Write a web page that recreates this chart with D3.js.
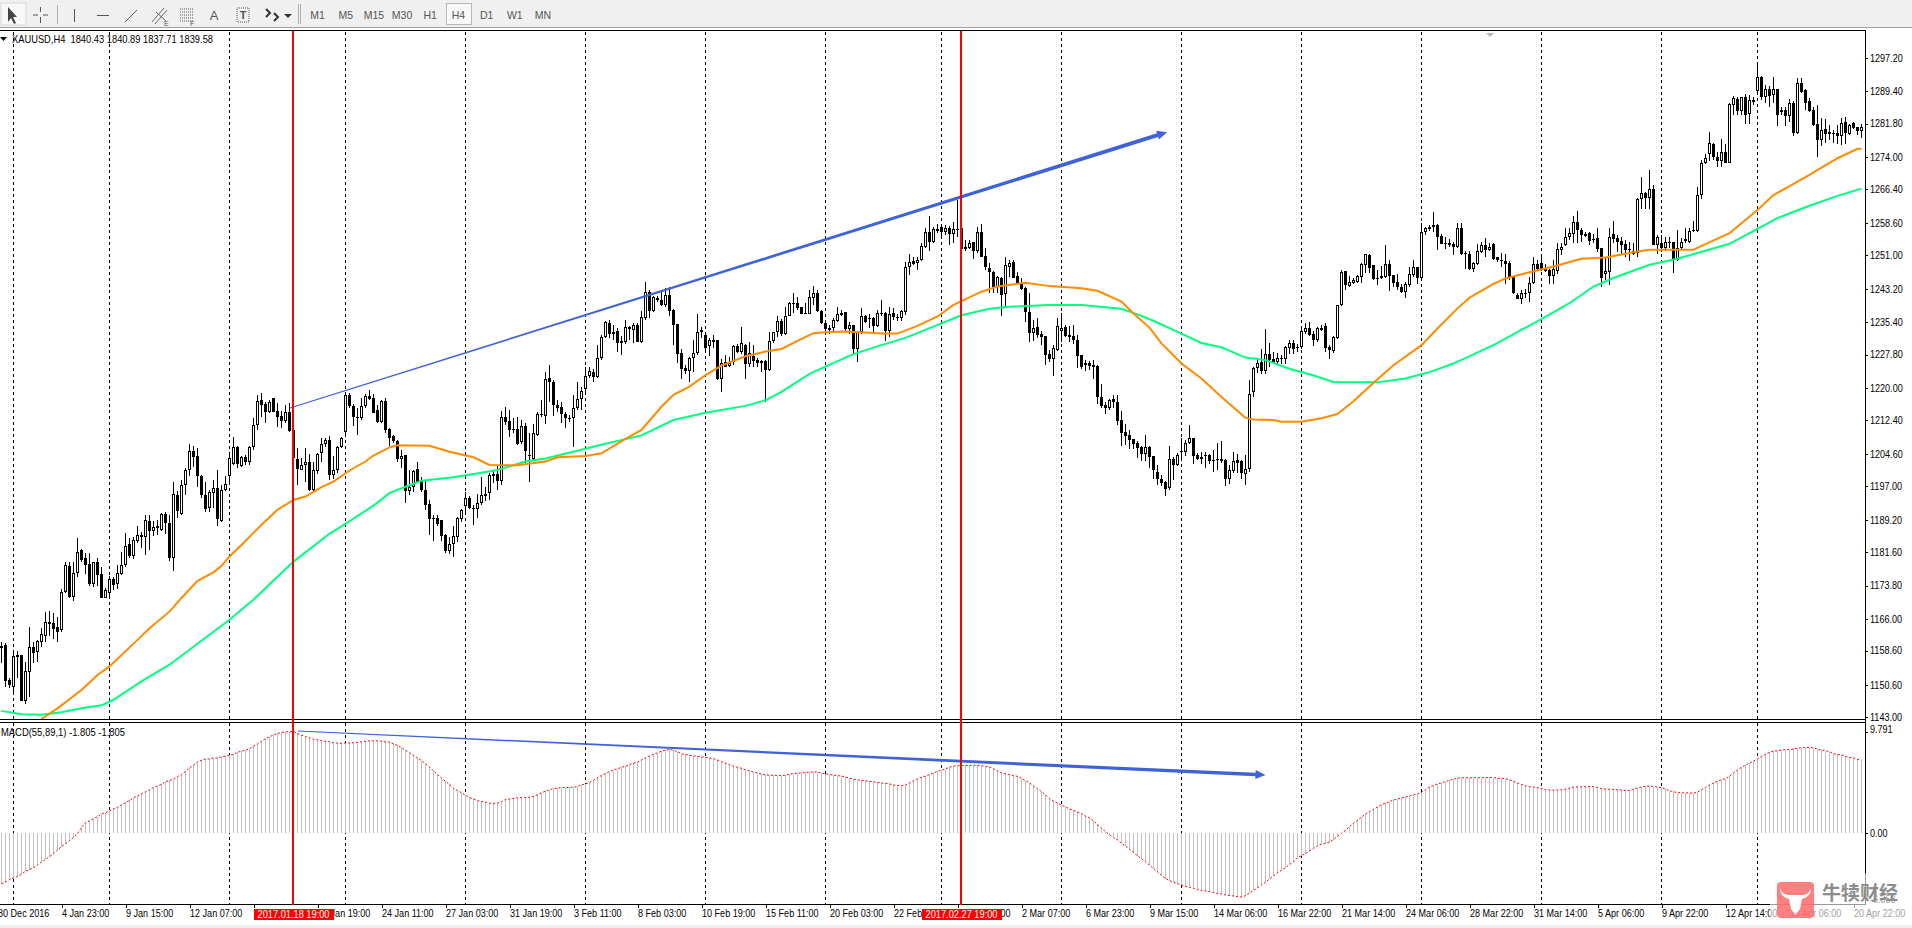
<!DOCTYPE html>
<html><head><meta charset="utf-8">
<script src="https://cdn.jsdelivr.net/npm/d3@7/dist/d3.min.js"></script>
<style>
html,body{margin:0;padding:0;background:#fff;overflow:hidden}
svg{display:block}
text{font-family:"Liberation Sans",Arial,sans-serif;font-size:10.5px;fill:#000}
</style></head><body><svg id="c" width="1912" height="928"></svg>
<script>
// ---------- chart data ----------
const opensA=[1159.3,1159.9,1151.7,1150.1,1157.5,1157.5,1146.9,1153.7,1159.4,1158.3,1160.7,1162.1,1165.2,1165,1164.1,1163.5,1172.3,1178.4,1171.2,1176.8,1182,1180.2,1178.8,1174.2,1179.2,1176.4,1171,1172.1,1175.3,1174.1,1176.5,1178.5,1183.5,1180.8,1184.1,1185.6,1185.2,1188.8,1186.6,1187.7,1186.8,1190.5,1188.4,1180.3,1195,1190.5,1197.2,1200.8,1205.3,1204,1199.4,1195,1191.9,1195.5,1196.6,1188.8,1196.1,1199.5,1202.1,1206.2,1201.8,1203.8,1202.8,1206.1,1211.3,1217.2,1216.3,1214.3,1217.6,1214.6,1213.5,1212.2,1214.4,1210.1,1203.3,1200.9,1201.9,1202.6,1196.2,1200.6,1204.9,1206.8,1207.9,1199.7,1200.7,1206.1,1209.6,1218.4,1215.7,1213.3,1212.9,1215.7,1218.2];
const highsA=[1160.5,1160.3,1152.1,1158.7,1158.6,1157.5,1156,1164,1160.7,1161.1,1163.8,1167.5,1167.9,1167.3,1166.5,1172.9,1179.2,1179.2,1179.2,1184.8,1182.3,1181.3,1181.5,1179.4,1180.2,1178.2,1173.2,1176.1,1175.9,1178.6,1181.7,1186,1184.8,1185.2,1187.7,1186.4,1190.4,1190.4,1189,1189.1,1190.7,1191.1,1190.3,1198.1,1195.9,1198.5,1201.2,1206.8,1206.5,1205.9,1199.7,1198.1,1196.2,1198.5,1200.8,1197.3,1199.3,1205.1,1208.6,1206.5,1204.1,1204.4,1206.5,1212.9,1218.4,1218.8,1216.6,1217.1,1217.6,1216.4,1214.5,1216,1216.4,1210.2,1205.9,1203.6,1205.9,1204.6,1202.8,1204.7,1208.2,1208.2,1208.8,1204,1206.5,1208.6,1218.6,1218.8,1216.3,1215.3,1217.6,1218.6,1219.6];
const lowsA=[1155.6,1150.1,1149.8,1148.2,1152.1,1146.9,1146.1,1147.8,1155.6,1156,1159.5,1160.7,1162,1161.4,1160.7,1163,1172,1170.8,1170.3,1175.9,1179.4,1176.5,1173.7,1173.4,1173.7,1170.8,1170.8,1171,1172.8,1172.9,1176.3,1178.2,1180.2,1179.9,1183.7,1182.5,1181,1182,1185.4,1185.6,1186.6,1185.9,1179.5,1177.1,1189.5,1190.3,1195,1199.3,1201.5,1196.9,1194.2,1191.1,1190.9,1191.9,1187.8,1188.6,1195.8,1197.7,1202,1201.2,1201.5,1202,1202,1205.5,1210.2,1213.3,1211.8,1214.1,1214.4,1210.8,1210.6,1211.8,1209.6,1202.4,1197.3,1200.7,1198.1,1195.8,1195.4,1199.9,1202.8,1206.3,1198.5,1198.7,1200.2,1205.9,1209,1215.3,1211,1209,1212.5,1215.3,1217.2];
const closesA=[1159.7,1151.5,1150.5,1157.3,1157.1,1146.9,1153.8,1159.4,1158.1,1160.8,1162.4,1165.2,1164.8,1163.7,1163,1172.3,1178.6,1171.2,1176.7,1181.6,1179.8,1178.7,1174.2,1179.2,1176.3,1170.8,1172.8,1175.3,1174,1176.7,1178.6,1183.1,1180.6,1184.4,1185.6,1185.2,1189.1,1186.6,1187.4,1187.2,1190.5,1188.4,1180.3,1195.1,1191.2,1197.3,1200.8,1205.2,1203.9,1199.3,1195,1191.7,1195.7,1196.6,1189.4,1196.1,1197.5,1203.6,1206.1,1202.1,1203.8,1202.8,1206.2,1211.3,1216.9,1216,1214.3,1216.8,1214.4,1213.3,1212.2,1214.3,1210,1203.7,1201,1201.9,1202.6,1196.2,1200.7,1204.5,1206.8,1207.8,1199.7,1200.8,1206.1,1208.2,1218.4,1215.7,1213.3,1212.9,1215.8,1218,1217.4];
const opensB=[1217.6,1214.8,1212.1,1216.9,1210.3,1208.7,1207.7,1203.5,1204.3,1196,1196.9,1201,1198.5,1196.1,1192.8,1189.7,1189.7,1189.1,1185.7,1181.8,1183.6,1185.2,1189.4,1192.5,1194.2,1191.9,1191.6,1193,1195.1,1195.5,1199.8,1199.9,1198.3,1213.2,1212.2,1210.4,1210.4,1207.3,1211.1,1204.3,1203.5,1209.1,1213.6,1213.5,1222.4,1221.5,1216,1215.5,1213.9,1213,1213,1215.2,1217.3,1219.8,1222.9,1223.7,1222.5,1226.9,1231.8,1235.1,1232.5,1233.3,1230.4,1230.8,1234.2,1233.6,1234.7,1230.8,1236.4,1242.5,1237.9,1241,1240.6,1239.3,1241.7,1238.2,1235,1228.1,1224.7,1224,1226.9,1228.1,1233,1232.4,1229.7,1231.1,1231.1,1222.2,1226,1225.2,1226,1229.7,1228.3,1230.1];
const highsB=[1218.6,1216,1217.2,1217.6,1210.6,1209,1207.8,1205.5,1204.3,1200.8,1200.8,1202.6,1199.2,1198.3,1193.8,1190.3,1190.3,1189.1,1185.8,1185.2,1187.8,1189.9,1191.8,1195.7,1194.7,1192.6,1195.2,1199.2,1196.9,1200,1200.8,1201.7,1214.7,1215.6,1214.8,1212.9,1213.3,1212.5,1211.7,1209.4,1211.6,1214.4,1217.2,1223.8,1225.4,1221.9,1217.2,1216.8,1214.4,1213.7,1218.4,1221.3,1220.3,1225,1225,1224.4,1230,1232.4,1235.7,1235.9,1234.7,1234.1,1232.2,1235.9,1234.5,1235.1,1235.1,1238.1,1244.7,1242.8,1241.5,1241.4,1242.5,1243.3,1243.7,1238.4,1235,1229,1225.4,1227.3,1231.2,1237.3,1234.3,1232.4,1231.6,1232.4,1231.2,1226.7,1227.7,1227.2,1230,1230.2,1234.3,1230.3];
const lowsB=[1214.1,1211.7,1211.7,1209.5,1206.4,1207.2,1202.7,1201.2,1193.2,1195,1195.7,1197.7,1195.7,1191.4,1185.6,1184.3,1187.7,1184.3,1181.5,1181.1,1180.4,1184,1188.7,1190.4,1191.6,1187.9,1189.5,1192.6,1193.5,1193.8,1197.7,1196.1,1197.3,1211.3,1208.6,1209.4,1206.6,1206.9,1202.5,1198.1,1203.1,1208.8,1213.3,1211.6,1216.8,1213.5,1214.4,1211.7,1210.7,1212.1,1206.3,1214.8,1214.8,1218.7,1222.3,1221.5,1222.3,1226.5,1231.6,1231.6,1231.2,1228.5,1227.6,1230.3,1231.2,1230.6,1230.7,1230.6,1235.9,1236.3,1237.8,1240.2,1239.2,1239,1236.7,1230,1225.9,1222.2,1223.3,1221.5,1223.8,1227.7,1231.6,1228.5,1227.5,1229.3,1221.9,1219.1,1224.8,1225,1225.4,1228.1,1227.9,1222];
const closesB=[1214.2,1212,1216.9,1210.2,1208.4,1207.6,1203.5,1204.2,1195.8,1196.9,1200.6,1198.1,1196.1,1192.6,1189.4,1189.3,1188.2,1185.5,1181.8,1183.6,1185.3,1189.5,1191.4,1194.2,1192,1191.6,1193,1194.9,1194.8,1199.6,1199.4,1198.3,1213.1,1212.1,1210.2,1210.1,1207,1211.1,1205.3,1204.1,1209.4,1213.8,1213.8,1222.2,1221.5,1216.1,1215.3,1213.8,1213,1212.9,1215.2,1217.3,1219.3,1222.9,1223.9,1222.5,1226.9,1231.9,1235.4,1232.5,1233,1230.4,1230.9,1234.2,1233.7,1234.7,1230.8,1236.5,1242.4,1238.1,1241.3,1240.6,1239.3,1241.7,1238.1,1234.8,1228,1224.5,1224,1226.9,1228.1,1233,1233.5,1229.4,1231.2,1230.8,1222,1225.9,1225,1225.9,1229.8,1228.3,1230.4,1225.6];
const opensC=[1225.7,1227.4,1226.5,1226.3,1226.3,1224.2,1230.9,1233,1235.6,1232.6,1236.9,1239.8,1239.8,1238.9,1237.5,1237.3,1241.1,1242.1,1238.1,1235.1,1233.5,1233.9,1235.7,1237.4,1237.7,1233.8,1234.8,1229,1233.1,1236.7,1236.3,1236.3,1234.5,1237.4,1237.4,1233.2,1237.4,1236.6,1236.3,1237.8,1248.2,1249.6,1249.1,1249.8,1253,1256.4,1254,1257.2,1257.7,1256.5,1257.3,1256.1,1257.2,1257.4,1252.4,1252.6,1254,1251.9,1256.5,1250.8,1248,1247.2,1243.5,1245.8,1241.9,1248.3,1249.5,1246.2,1244.6,1243.4,1237.7,1232.9,1234.2,1232.6,1232.1,1227.9,1226.8,1228.9,1233.4,1234.3,1232.3,1232.1,1231.3,1227.6,1225.3,1225.9,1225.3,1225.1,1217.8,1216,1215.3,1217.4,1216.8];
const highsC=[1230.8,1230,1226.9,1226.5,1226.5,1233.1,1233.1,1236.8,1236.2,1239,1240.2,1242.1,1241.2,1239,1239.8,1242.9,1243.8,1242.9,1238.2,1235.2,1234.7,1236.3,1239,1238.2,1237.8,1235.5,1234.8,1233.4,1238.8,1237,1237.3,1236.6,1238.2,1240.5,1237.8,1239,1238.8,1237.3,1238.2,1249.5,1251.3,1250.5,1250.7,1253.8,1257.5,1260.2,1257.7,1258.3,1258.3,1258.1,1257.9,1258.9,1263.9,1258.1,1254.6,1254.6,1254.2,1257.7,1258.3,1252.6,1249.3,1247.3,1246.2,1246,1250.5,1249.9,1249.9,1247.2,1245.6,1243.5,1242.3,1235.9,1236.3,1233.4,1232.1,1228.8,1230,1236.3,1237.4,1234.7,1234.5,1234.7,1232.4,1227.7,1226.5,1226.3,1226.5,1225.3,1220.9,1216.8,1217.5,1218.3,1218.3];
const lowsC=[1224.9,1224.9,1224.9,1223.7,1216.8,1224,1230.4,1232,1232.1,1232.4,1236.8,1237.4,1238.2,1237.3,1237.3,1237.3,1239.4,1237.8,1234.9,1232.7,1232.6,1233.4,1235.5,1236.8,1233.1,1232.6,1227.9,1226.1,1232.7,1235.1,1234.1,1233.1,1234.3,1236.8,1231,1232,1235.9,1235.7,1235.7,1237,1246.4,1248.7,1247.6,1249.7,1252.6,1251.9,1253.8,1256.3,1255,1255.8,1253.4,1253.8,1255.4,1250.7,1252.1,1252.4,1250.1,1251.6,1250.5,1247.6,1242.3,1242.3,1242.3,1236.8,1238.6,1246,1245.6,1244.3,1242.9,1235.5,1230.8,1231,1231.6,1230,1225.3,1226.1,1222.8,1228.7,1230.8,1231.8,1230.8,1230.2,1224.7,1224.5,1224,1224.2,1222,1216.2,1215.4,1213.9,1214.8,1215.2,1211.3];
const closesC=[1228.1,1226.3,1225.9,1225.9,1224.2,1230.9,1233,1235.6,1232.6,1236.9,1239.8,1239.6,1238.7,1237.3,1237.3,1241.2,1242.1,1238,1235.1,1233.7,1234.1,1235.8,1237.2,1237,1233.8,1234.8,1229.1,1233.1,1236.7,1235.5,1236.1,1234.5,1237.4,1237.3,1233.2,1237.2,1236.6,1236.4,1238,1248.2,1249.5,1249,1249.8,1253.1,1256.4,1254,1257.1,1256.8,1256.5,1257.3,1256,1257.2,1257,1252.4,1253,1253.9,1251.9,1256.5,1250.7,1248.3,1247.2,1243.5,1245.9,1241.7,1248.7,1249.1,1245.8,1244.4,1243.2,1237.7,1232.9,1233.9,1232.4,1231.9,1227.7,1226.8,1229.3,1234.4,1234.1,1232.1,1231.9,1231.2,1227.4,1224.9,1225.9,1225.2,1224.9,1217.9,1215.7,1215.4,1217.2,1216.8,1212.3];
const opensD=[1212.4,1209.6,1209,1208,1207.1,1206.1,1204.5,1206.2,1204,1200.3,1198.8,1198,1196.5,1203.5,1202,1205.2,1205.1,1207.1,1208.3,1204.4,1203.8,1204.3,1204.3,1203.1,1203.5,1203.5,1203.1,1198.7,1200.5,1203.1,1202.9,1199.9,1201.1,1219.1,1224.7,1226.1,1224,1228,1226.7,1226.1,1227.1,1226.7,1229.4,1230.4,1229.6,1229.5,1233.1,1233.9,1232.5,1231.2,1233.9,1234.5,1229.6,1228.6,1231.7,1239.3,1247.3,1243.8,1244.6,1244.8,1246,1248.8,1251.1,1248.7,1245.8,1246.2,1246,1248.9,1246.4,1244.8,1243.7,1242.4,1244.1,1246.4,1248.3,1245.8,1256.4,1257.1,1258,1258,1255.5,1253.9,1253.8,1253.6,1253,1257.3,1251.6,1251.3,1247.7,1249,1251.7,1253.4,1252.3];
const highsD=[1214.6,1211.5,1210.1,1208,1207.6,1206.4,1209,1206.4,1204,1201.9,1199.6,1198.2,1206.4,1203.9,1204.8,1208.2,1207.8,1211.3,1208.4,1204.8,1205,1205,1204.5,1205.4,1207.2,1207.5,1203.3,1201.9,1205,1204.5,1203.1,1204.3,1221.8,1224.9,1226.9,1229.2,1233.7,1230.6,1228.4,1228.1,1227.7,1229.8,1231.3,1231.2,1230.2,1233.9,1235.1,1235.3,1233.4,1234.3,1234.7,1235.2,1230,1232.1,1239.4,1247.6,1247.3,1246.2,1245.8,1246.4,1249.1,1251.2,1251.2,1248.7,1247.6,1248.5,1253.4,1249.9,1246.4,1246.6,1244.4,1244.8,1248.3,1249.9,1248.3,1258.5,1257.7,1258.1,1261.2,1258.3,1256.1,1255.2,1254.7,1254.2,1258.5,1258.5,1251.9,1251.9,1249.5,1253.6,1254.2,1255,1253.8];
const lowsD=[1206.5,1206.6,1205.8,1205.8,1203.7,1203,1203,1201.2,1198.8,1197.3,1197,1194.7,1196.1,1198.4,1201.8,1203.1,1204,1206.9,1202.2,1203.1,1202.3,1201.2,1202.2,1200.4,1200.8,1202.5,1197.1,1197.5,1200.1,1200,1198.6,1197.2,1200.4,1217.8,1223.4,1223.2,1223.2,1224.9,1225.6,1225.3,1225.7,1225.6,1227.9,1228,1228.5,1229.2,1232.6,1232.1,1229.8,1230.8,1233.4,1228.4,1226.8,1228.2,1231.4,1239.1,1243,1243.7,1244.3,1244.6,1244.6,1246.8,1246.9,1245.2,1244,1245.5,1245.8,1242.7,1243.7,1243,1242.1,1241,1243.5,1246,1244.4,1245.5,1255.7,1256.8,1256.5,1252.2,1253.6,1252.5,1253,1251.1,1252.8,1251.1,1247.7,1247.6,1247.2,1248.7,1251.5,1250.5,1252.1];
const closesD=[1209.5,1208.8,1207.9,1206.9,1205.9,1204.6,1206.1,1203.9,1200.9,1198.7,1197.8,1196.4,1203.3,1202,1204.3,1205,1207.2,1208.2,1204.1,1203.5,1203.4,1204,1203,1203,1203.3,1202.9,1198.6,1200.7,1203,1202.5,1200,1201.1,1218.5,1224.7,1225.9,1224,1228,1226.5,1225.9,1227,1226.9,1229.5,1230.4,1229.1,1229.3,1233.4,1233.9,1232.4,1231.2,1234,1233.6,1229.4,1228.8,1231.9,1239.3,1247.2,1244.1,1244.7,1245.2,1246.1,1249,1251.2,1248,1245.5,1245.5,1245.7,1248.9,1246.2,1244.6,1243.6,1242.4,1244.2,1246.6,1248.3,1245.8,1256.4,1257.3,1257.7,1257.7,1255.4,1253.7,1253.6,1253.5,1253,1257.3,1251.3,1251.5,1247.7,1249.1,1252,1253.4,1252.2,1252.9];
const opensE=[1253.6,1250.5,1250,1249.6,1249.2,1246,1241.8,1240.8,1242.1,1242.1,1244.6,1248.9,1249.3,1248.1,1247.5,1246.2,1247.4,1252.3,1253.4,1255.3,1256,1258.7,1257,1255.9,1256.2,1254.9,1255,1252.6,1246.7,1247.1,1256.1,1255,1254.3,1253.6,1252.4,1251.9,1251.6,1264.1,1265.5,1264.4,1266.6,1253.4,1253.8,1252.7,1254.2,1254,1249.8,1252.7,1254.9,1254.1,1256.9,1256.7,1265.2,1272.7,1274.7,1277,1274.1,1273.1,1275.1,1272.6,1286.1,1287.5,1284.8,1287.9,1284.1,1287.3,1289.4,1292.7,1288.1,1289.8,1288.5,1289.9,1285,1285,1283.6,1286.7,1279.5,1291.4,1289.6,1287.1,1285,1281.8,1278,1280.5,1279.8,1279.6,1279.6,1279,1282.2,1279.3,1282,1280.9,1280.1];
const highsE=[1253.9,1250.6,1251.6,1251.4,1249.7,1246.1,1242.1,1243,1243.2,1246,1250.5,1250,1250.5,1249,1247.9,1249.9,1253.8,1253.9,1257.3,1257.3,1260.2,1261.3,1257.3,1256.5,1256.5,1256.1,1257.3,1252.8,1250.7,1257.3,1259,1255.7,1255.2,1254.5,1254.2,1253.8,1264.3,1269.4,1265.9,1270.9,1267.4,1255.7,1255.7,1255.3,1255.3,1254.2,1257,1255,1257.3,1257.3,1259,1267,1273.3,1274.8,1279.9,1277.2,1275.2,1278.1,1277,1286.5,1288.2,1288.1,1287.9,1288.6,1288.5,1287.9,1295.5,1292.9,1290.8,1290.6,1292.6,1289.9,1285.7,1285.6,1287.5,1287.1,1292.4,1292.4,1289.8,1287.7,1285.6,1286.1,1283,1282.8,1281.5,1280.4,1281.5,1283,1283.4,1281.8,1282.2,1281.1,1281.8];
const lowsE=[1249.9,1249.5,1248.2,1244.4,1245.3,1241.9,1240.7,1239.6,1241.1,1240.1,1244.2,1247.4,1247.4,1247.1,1244.4,1244.4,1246.7,1251,1253.1,1254.5,1253.8,1253.9,1254.2,1255.2,1253.4,1253.8,1251.8,1243.6,1245.2,1244,1253.8,1251.8,1251.4,1250.6,1249.6,1251,1250.6,1261.8,1261.9,1261.8,1253.3,1251.3,1251.8,1252,1252.6,1246.9,1249.6,1252.4,1253.9,1253.9,1256.5,1256.5,1264.1,1272.3,1273,1273.3,1271.7,1271.7,1272.5,1272.5,1283.8,1283.8,1283.8,1281.8,1281.7,1286.1,1288.5,1287.2,1286.5,1285.6,1286.5,1281.3,1283.8,1281.3,1282.2,1278.9,1279.4,1288.9,1285,1284.4,1281.3,1274,1276.5,1277.3,1278,1277.3,1277,1276.8,1277,1279.1,1280.5,1279.1,1278.5];
const closesE=[1250.2,1249.9,1249.8,1249,1246,1242.2,1240.8,1242.3,1241.9,1244.6,1248.9,1247.7,1247.9,1247.3,1246.2,1247.7,1252.4,1252.9,1255.4,1256.2,1258.7,1256.9,1255.8,1255.6,1254.4,1254.6,1252.4,1245.6,1247.3,1255.4,1254.9,1254.2,1253.4,1252.2,1252.2,1251.4,1264.1,1265.5,1264.5,1266.4,1253.5,1255.2,1252.7,1254.2,1253.8,1249.9,1252.8,1254,1254.3,1256.8,1256.7,1265.2,1272.7,1273.8,1277.2,1274,1273.1,1275.1,1272.7,1286.4,1287.8,1284.8,1287.9,1283.9,1287.2,1286.9,1292.6,1288.1,1289.8,1288.3,1289.9,1283.8,1284.6,1283.6,1286.5,1279.6,1291.4,1289.2,1286.5,1284.8,1281.5,1278,1280.4,1279.4,1279.3,1279.3,1279,1281.9,1279.7,1281.4,1280.7,1280.1,1280.9];
const opens=[...opensA,...opensB,...opensC,...opensD,...opensE];
const highs=[...highsA,...highsB,...highsC,...highsD,...highsE];
const lows=[...lowsA,...lowsB,...lowsC,...lowsD,...lowsE];
const closes=[...closesA,...closesB,...closesC,...closesD,...closesE];

const maFastBars=[10,14,20,24,27,34,37,42,45,49,53,55,57,60,65,69,73,76,80,83,87,91,93,97,99,107,112,118,122,129,136,139,146,150,156,160,165,168,172,176,180,186,191,195,199,203,206,211,215,220,224,229,234,238,245,249,256,262,270,274,280,283,287,290,295,300,305,311,313,318,320,325,330,334,338,343,348,355,359,364,367,373,376,381,388,395,401,408,412,423,426,432,435,439,443,447,452,459,464,465];
const maFast=[1142.6,1145.1,1149.4,1152.9,1154.9,1161.1,1163.8,1167.7,1170.9,1174.9,1176.9,1178.4,1180.6,1183.3,1188,1191.5,1193.8,1194.6,1196.8,1198.1,1200.7,1202.8,1204.2,1206.1,1206.6,1206.5,1205.1,1203.8,1202,1201.9,1202.8,1203.8,1204.1,1204.7,1208.1,1210.2,1215.6,1218.4,1220.3,1223,1225.2,1227.4,1228.5,1229.1,1231,1232.8,1233,1233.2,1233,1232.7,1232.7,1234.5,1236.7,1239.4,1242.5,1243.7,1244.6,1243.8,1243.3,1242.7,1240.2,1237.4,1234.1,1230.4,1225.7,1222.2,1217.9,1213,1212.6,1212.5,1212.1,1212.1,1212.9,1213.9,1216.9,1221.2,1225.3,1230,1233.9,1238.6,1241.1,1244.3,1245.6,1246.8,1248.4,1250.2,1250.5,1251.7,1252.3,1252.3,1253.6,1256.2,1258.5,1261.6,1265.1,1267.2,1269.8,1273.7,1275.9,1275.9];
const maSlowBars=[0,5,10,15,20,25,28,35,42,48,57,63,73,82,86,93,97,101,105,112,117,124,131,136,143,150,160,168,176,186,191,195,202,206,213,220,226,235,240,247,252,262,270,280,284,288,295,300,305,311,316,322,327,333,344,351,357,363,373,385,392,398,403,412,419,432,439,444,452,459,465];
const maSlow=[1144.5,1143.7,1143.6,1144.2,1145.1,1145.8,1147.1,1151.4,1155.3,1159.5,1165.8,1170.5,1179.4,1185.9,1188.2,1192.5,1195.4,1196.9,1198.3,1199,1199.7,1200.8,1202.8,1203.5,1205.1,1206.7,1208.9,1212.5,1214.2,1215.8,1217.1,1219.1,1223.3,1225,1227.9,1230,1231.7,1235.1,1237,1238.5,1239,1239.4,1239.4,1238.5,1237.2,1235.7,1232.7,1230.5,1229.5,1227.1,1226.5,1224.5,1223.2,1221.4,1221.3,1222.2,1223.7,1225.7,1230,1236.1,1239.8,1243.7,1245.7,1248.8,1250.2,1253.7,1257.2,1259.7,1262.6,1264.9,1266.6];
const macd=[-4.84,-4.7,-4.45,-4.3,-4.15,-3.95,-3.64,-3.5,-3.3,-3.05,-2.77,-2.5,-2.25,-1.95,-1.6,-1.29,-1,-0.7,-0.4,0,0.55,1.03,1.2,1.4,1.6,1.85,2,2.15,2.35,2.5,2.75,2.95,3.16,3.4,3.6,3.8,4,4.19,4.4,4.55,4.7,4.95,5.09,5.2,5.45,5.65,5.95,6.29,6.55,6.85,7.03,7.15,7.15,7.25,7.25,7.35,7.42,7.5,7.6,7.8,7.9,8,8.15,8.38,8.6,8.85,9.1,9.29,9.45,9.6,9.7,9.74,9.78,9.79,9.6,9.45,9.3,9.2,9.05,9,8.9,8.85,8.8,8.7,8.68,8.65,8.68,8.7,8.71,8.75,8.8,8.85,8.9,8.9,8.9,8.85,8.8,8.77,8.6,8.45,8.23,8,7.75,7.5,7.23,7,6.7,6.39,6,5.65,5.32,5,4.7,4.35,4.1,3.9,3.65,3.45,3.3,3.15,3.06,3,2.92,2.87,2.9,3.05,3.25,3.3,3.35,3.42,3.45,3.45,3.48,3.55,3.7,3.9,4.05,4.19,4.3,4.35,4.4,4.4,4.42,4.45,4.5,4.65,4.75,4.9,5.1,5.35,5.55,5.75,5.94,6.1,6.2,6.35,6.45,6.6,6.75,6.85,7.05,7.25,7.45,7.6,7.74,7.9,8,8.06,8,7.85,7.65,7.6,7.5,7.45,7.4,7.35,7.3,7.25,7.19,7.05,6.9,6.75,6.6,6.45,6.35,6.25,6.1,6,5.9,5.8,5.7,5.61,5.6,5.58,5.55,5.55,5.6,5.7,5.75,5.78,5.81,5.85,5.88,5.9,5.9,5.8,5.72,5.65,5.6,5.55,5.5,5.42,5.3,5.2,5.15,5.1,5.05,5,4.95,4.9,4.85,4.8,4.75,4.65,4.6,4.58,4.65,4.85,5.05,5.23,5.4,5.5,5.65,5.8,5.95,6.06,6.2,6.35,6.45,6.5,6.52,6.53,6.53,6.55,6.55,6.5,6.45,6.39,6.2,6,5.81,5.72,5.65,5.55,5.48,5.3,5.05,4.85,4.55,4.3,4,3.7,3.35,3.1,2.9,2.7,2.55,2.35,2.2,2.05,1.9,1.65,1.5,1.2,0.85,0.5,0.16,-0.15,-0.4,-0.65,-0.95,-1.23,-1.55,-1.85,-2.15,-2.45,-2.74,-3.05,-3.4,-3.7,-4.05,-4.35,-4.55,-4.7,-4.85,-5,-5.1,-5.2,-5.3,-5.4,-5.5,-5.55,-5.6,-5.7,-5.8,-5.85,-5.93,-6,-6.03,-6.08,-6.13,-6,-5.75,-5.5,-5.25,-5,-4.7,-4.4,-4.1,-3.8,-3.55,-3.3,-3,-2.75,-2.35,-2.15,-1.95,-1.7,-1.45,-1.2,-1.05,-0.95,-0.85,-0.6,-0.3,0,0.3,0.65,0.95,1.25,1.55,1.85,2.1,2.3,2.55,2.75,2.9,3.05,3.2,3.3,3.4,3.5,3.6,3.7,3.8,3.95,4.2,4.45,4.6,4.75,4.85,4.97,5.1,5.2,5.3,5.35,5.35,5.35,5.35,5.35,5.35,5.35,5.37,5.35,5.3,5.3,5.25,5.16,5,4.85,4.7,4.58,4.5,4.45,4.4,4.32,4.2,4.16,4.15,4.17,4.19,4.25,4.35,4.45,4.47,4.47,4.48,4.5,4.48,4.4,4.3,4.26,4.25,4.22,4.2,4.15,4.12,4.1,4.25,4.35,4.45,4.52,4.55,4.5,4.45,4.4,4.25,4.1,4,3.92,3.9,3.9,3.87,3.87,3.95,4.2,4.4,4.65,4.85,5,5.15,5.25,5.5,5.8,6.1,6.35,6.55,6.75,6.95,7.15,7.4,7.6,7.8,7.9,7.95,8,8.05,8.05,8.1,8.2,8.22,8.25,8.25,8.22,8.1,8,7.95,7.85,7.65,7.6,7.55,7.4,7.3,7.25,7.1,7.05];
const priceTicks=[1297.2,1289.4,1281.8,1274,1266.4,1258.6,1251,1243.2,1235.4,1227.8,1220,1212.4,1204.6,1197,1189.2,1181.6,1173.8,1166,1158.6,1150.6,1143];
const macdTicks=[9.791,0,-6.353];
const macdTickLabels=["9.791","0.00","-6.353"];
const dateTickBars=[-1,15,31,47,63,79,95,111,127,143,159,175,191,207,223,239,255,271,287,303,319,335,351,367,383,399,415,431,447,463];
const dateLabels=["30 Dec 2016","4 Jan 23:00","9 Jan 15:00","12 Jan 07:00","17 Jan 03:00","19 Jan 19:00","24 Jan 11:00","27 Jan 03:00","31 Jan 19:00","3 Feb 11:00","8 Feb 03:00","10 Feb 19:00","15 Feb 11:00","20 Feb 03:00","22 Feb 19:00","27 Feb 11:00","2 Mar 07:00","6 Mar 23:00","9 Mar 15:00","14 Mar 06:00","16 Mar 22:00","21 Mar 14:00","24 Mar 06:00","28 Mar 22:00","31 Mar 14:00","5 Apr 06:00","9 Apr 22:00","12 Apr 14:00","18 Apr 06:00","20 Apr 22:00"];
const gridBars=[3,27,57,86,116,146,176,206,235,265,295,325,355,385,415,439];
const markerBars=[73,240];
const markerLabels=["2017.01.18 19:00","2017.02.27 19:00"];
const priceTrendBars=[72.1,291.4];
const priceTrendValues=[1215.3,1279.8];
const macdTrendBars=[74.1,316];
const macdTrendValues=[9.84,5.6];
const timeframes=["M1","M5","M15","M30","H1","H4","D1","W1","MN"];
const headerText="XAUUSD,H4  1840.43 1840.89 1837.71 1839.58";
const macdHeader="MACD(55,89,1) -1.805 -1.805";

// ---------- scales ----------
const W=1912,H=928,axisX=1865,topY=31,splitY=720,splitY2=722.5,botY=905;
const x=d3.scaleLinear().domain([0,465]).range([1.5,1861.5]);
const yP=d3.scaleLinear().domain([1143,1297.2]).range([717.3,57.7]);
const yM=d3.scaleLinear().domain([0,9.791]).range([833.3,731.5]);
const SX=0.862;
const svg=d3.select("#c");
const crisp=s=>s.attr("shape-rendering","crispEdges");
const defs=svg.append("defs");
defs.append("clipPath").attr("id","pc").append("rect").attr("x",0).attr("y",topY+1).attr("width",axisX).attr("height",splitY-topY-1);
defs.append("clipPath").attr("id","mc").append("rect").attr("x",0).attr("y",splitY2).attr("width",axisX).attr("height",botY-splitY2);

// ---------- frame ----------
svg.append("rect").attr("width",W).attr("height",H).attr("fill","#fff");
const bars=d3.range(closes.length);

// grid
for(const [a,b] of [[topY+1,splitY],[splitY2,botY]]){
  svg.append("g").selectAll("line").data(gridBars).join("line")
    .attr("x1",d=>x(d)).attr("x2",d=>x(d)).attr("y1",a).attr("y2",b)
    .attr("stroke","#000").attr("stroke-dasharray","3,3").call(crisp);
}

// MACD histogram + signal
const gM=svg.append("g").attr("clip-path","url(#mc)");
gM.append("g").selectAll("line").data(bars).join("line")
  .attr("x1",i=>x(i)).attr("x2",i=>x(i)).attr("y1",yM(0)).attr("y2",i=>yM(macd[i]))
  .attr("stroke","#c0c0c0").call(crisp);
gM.append("path").datum(bars)
  .attr("d",d3.line().x(i=>x(i)).y(i=>yM(macd[i])))
  .attr("fill","none").attr("stroke","#ff0000").attr("stroke-dasharray","2,2");

// candles
const gP=svg.append("g").attr("clip-path","url(#pc)");
const candle=gP.append("g").selectAll("g").data(bars).join("g").call(crisp);
candle.append("line").attr("x1",i=>x(i)).attr("x2",i=>x(i))
  .attr("y1",i=>yP(highs[i])).attr("y2",i=>yP(lows[i])).attr("stroke","#000");
const bodyTop=i=>yP(Math.max(opens[i],closes[i])), bodyH=i=>Math.max(1,yP(Math.min(opens[i],closes[i]))-bodyTop(i));
candle.append("rect").attr("x",i=>x(i)-1.5).attr("width",3).attr("y",bodyTop).attr("height",bodyH).attr("fill","#000");
candle.filter(i=>closes[i]>opens[i]&&bodyH(i)>2).append("rect").attr("x",i=>x(i)-.5).attr("width",1)
  .attr("y",i=>bodyTop(i)+1).attr("height",i=>bodyH(i)-2).attr("fill","#fff");

// moving averages
const maLine=(xs,ys)=>d3.line().x(i=>x(xs[i])).y(i=>yP(ys[i]))(d3.range(xs.length));
gP.append("path").attr("d",maLine(maSlowBars,maSlow)).attr("fill","none").attr("stroke","#00ff7f").attr("stroke-width",2);
gP.append("path").attr("d",maLine(maFastBars,maFast)).attr("fill","none").attr("stroke","#ff8c00").attr("stroke-width",2);

// trend arrows
function arrow(bx,vals,scale,w0,w1){
  const ax=x(bx[0]),ay=scale(vals[0]),tx=x(bx[1]),ty=scale(vals[1]);
  const L=Math.hypot(tx-ax,ty-ay),ux=(tx-ax)/L,uy=(ty-ay)/L,nx=-uy,ny=ux,hl=10,hw=4.5;
  const bxx=tx-ux*hl,byy=ty-uy*hl;
  const p=d3.path();
  p.moveTo(ax+nx*w0/2,ay+ny*w0/2);p.lineTo(bxx+nx*w1/2,byy+ny*w1/2);p.lineTo(bxx+nx*hw,byy+ny*hw);
  p.lineTo(tx,ty);p.lineTo(bxx-nx*hw,byy-ny*hw);p.lineTo(bxx-nx*w1/2,byy-ny*w1/2);p.lineTo(ax-nx*w0/2,ay-ny*w0/2);p.closePath();
  svg.append("path").attr("d",p.toString()).attr("fill","#3f62d8");
}
arrow(priceTrendBars,priceTrendValues,yP,1,4);
arrow(macdTrendBars,macdTrendValues,yM,1,3.5);

// panel borders
const hl=(y,x1,x2,c)=>svg.append("line").attr("x1",x1).attr("x2",x2).attr("y1",y+.5).attr("y2",y+.5).attr("stroke",c||"#000").call(crisp);
hl(topY-1,0,axisX+1);hl(splitY-1,0,axisX+1);hl(splitY2-.5,0,axisX+1);hl(botY-1,0,axisX+1);
svg.append("line").attr("x1",axisX+.5).attr("x2",axisX+.5).attr("y1",topY-1).attr("y2",botY).attr("stroke","#000").call(crisp);

// axes
function styleRight(g){
  g.select(".domain").remove();
  g.selectAll(".tick line").attr("stroke","#000").call(crisp);
  g.selectAll(".tick text").attr("x",5/SX).attr("transform",`scale(${SX},1)`).attr("fill","#000").style("font-family",'"Liberation Sans"').style("font-size","10.5px");
}
svg.append("g").attr("transform",`translate(${axisX},0)`)
  .call(d3.axisRight(yP).tickValues(priceTicks).tickSize(3).tickFormat(d3.format(".2f"))).call(styleRight);
const axM=svg.append("g").attr("transform",`translate(${axisX},0)`)
  .call(d3.axisRight(yM).tickValues(macdTicks).tickSize(3).tickFormat((d,i)=>macdTickLabels[i])).call(styleRight);
axM.selectAll(".tick text").filter((d,i)=>i===0).attr("y",-2);
const axB=svg.append("g").attr("transform",`translate(0,${botY-.5})`)
  .call(d3.axisBottom(x).tickValues(dateTickBars).tickSize(3).tickFormat((d,i)=>dateLabels[i]));
axB.select(".domain").remove();
axB.selectAll(".tick line").attr("stroke","#000").call(crisp);
axB.selectAll(".tick text").attr("text-anchor","start").attr("x",0).attr("y",5.5).attr("transform",`scale(${SX},1)`)
  .attr("fill","#000").style("font-family",'"Liberation Sans"').style("font-size","10.5px");

// red markers
svg.append("g").selectAll("line").data(markerBars).join("line")
  .attr("x1",d=>x(d)-.5).attr("x2",d=>x(d)-.5).attr("y1",topY).attr("y2",botY)
  .attr("stroke","#ff0000").attr("stroke-width",2).call(crisp);
const tag=svg.append("g").selectAll("g").data(markerBars).join("g").attr("transform",d=>`translate(${x(d)},0)`);
tag.append("rect").attr("x",-40).attr("y",909).attr("width",80).attr("height",11).attr("fill","#ff0000").call(crisp);
tag.append("text").attr("x",0).attr("y",918).attr("text-anchor","middle").attr("textLength",72).attr("lengthAdjust","spacingAndGlyphs")
  .style("fill","#fff").text((d,i)=>markerLabels[i]);

// headers
svg.append("path").attr("d","M0,37L7,37L3.5,41Z").attr("fill","#000");
svg.append("text").attr("x",12).attr("y",43).attr("textLength",201).attr("lengthAdjust","spacingAndGlyphs").attr("xml:space","preserve").text(headerText);
svg.append("text").attr("x",1).attr("y",735.5).attr("textLength",124).attr("lengthAdjust","spacingAndGlyphs").text(macdHeader);
svg.append("path").attr("d","M1486,33L1494,33L1490,37Z").attr("fill","#b8b8b8");

// toolbar
svg.append("rect").attr("width",W).attr("height",27).attr("fill","#f0f0f0");
hl(27,0,W,"#a0a0a0");
svg.append("rect").attr("y",925).attr("width",W).attr("height",3).attr("fill","#f0f0f0");
svg.append("rect").attr("x",1).attr("y",3).attr("width",25).attr("height",22).attr("fill","#f8f8f8").attr("stroke","#d8d8d8");
svg.append("rect").attr("x",446.5).attr("y",3.5).attr("width",25).attr("height",21).attr("fill","#f8f8f8").attr("stroke","#b8b8b8");
const tb=svg.append("g").attr("fill","none").attr("stroke","#555");
tb.append("path").attr("d","M8,7L8,22L11,18L14,24L16,23L13,17L17,17Z").attr("fill","#444").attr("stroke","none");
tb.append("path").attr("d","M33,18H38M43,18H48M40.5,10V15M40.5,20V26").attr("transform","translate(0,-3)");
tb.append("path").attr("d","M57.5,5V24M300.5,4V24M298.5,4V24").attr("stroke","#b0b0b0");
tb.append("path").attr("d","M74.5,9V22M97,15.5H109M125,22L137,10");
tb.append("path").attr("d","M152,22L164,8M155,24L167,10M156,12L166,21").attr("stroke","#666");
tb.append("path").attr("d","M180,9H193M180,12H193M180,15H193M180,18H193M180,21H193").attr("stroke-dasharray","1,1");
tb.append("rect").attr("x",237).attr("y",8).attr("width",12).attr("height",14).attr("stroke-dasharray","1,1");
tb.append("path").attr("d","M266,9L270,13L266,17M274,13L278,17L274,21").attr("stroke-width",2).attr("stroke","#333");
tb.append("path").attr("d","M284,14H292L288,18Z").attr("fill","#333").attr("stroke","none");
svg.append("text").attr("x",214).attr("y",20).attr("text-anchor","middle").style("font-size","13px").style("fill","#555").text("A");
svg.append("text").attr("x",243).attr("y",19).attr("text-anchor","middle").style("font-size","11px").style("font-weight","bold").style("fill","#555").text("T");
svg.append("text").attr("x",164).attr("y",26).style("font-size","7px").style("fill","#555").text("E");
svg.append("text").attr("x",190).attr("y",26).style("font-size","7px").style("fill","#555").text("F");
const tfCenters=d3.scalePoint().domain(timeframes).range([317.5,543]);
svg.append("g").selectAll("text").data(timeframes).join("text").attr("x",d=>tfCenters(d)).attr("y",19)
  .attr("text-anchor","middle").style("fill","#555").text(d=>d);

// watermark
const wm=svg.append("g");
wm.append("rect").attr("x",1770).attr("y",873).attr("width",142).attr("height",52).attr("fill","#fff").attr("opacity",.6);
const wmIcon=wm.append("g").attr("transform","translate(1777,882)");
wmIcon.append("rect").attr("width",37).attr("height",36).attr("rx",4).attr("fill","#ff6a6a").attr("opacity",.85);
wmIcon.append("path").attr("d","M3,6C3,14 9,16 12,17L14,27L18.5,33L23,27L25,17C28,16 34,14 34,6C32,12 28,13 25,13L12,13C9,13 5,12 3,6Z").attr("fill","#fff");
wm.append("text").attr("x",1822).attr("y",900).style("font-family",'"Noto Sans CJK SC"').style("font-size","19px").style("font-weight","bold").style("fill","#8c8c8c").text("牛犊财经");
</script></body></html>
